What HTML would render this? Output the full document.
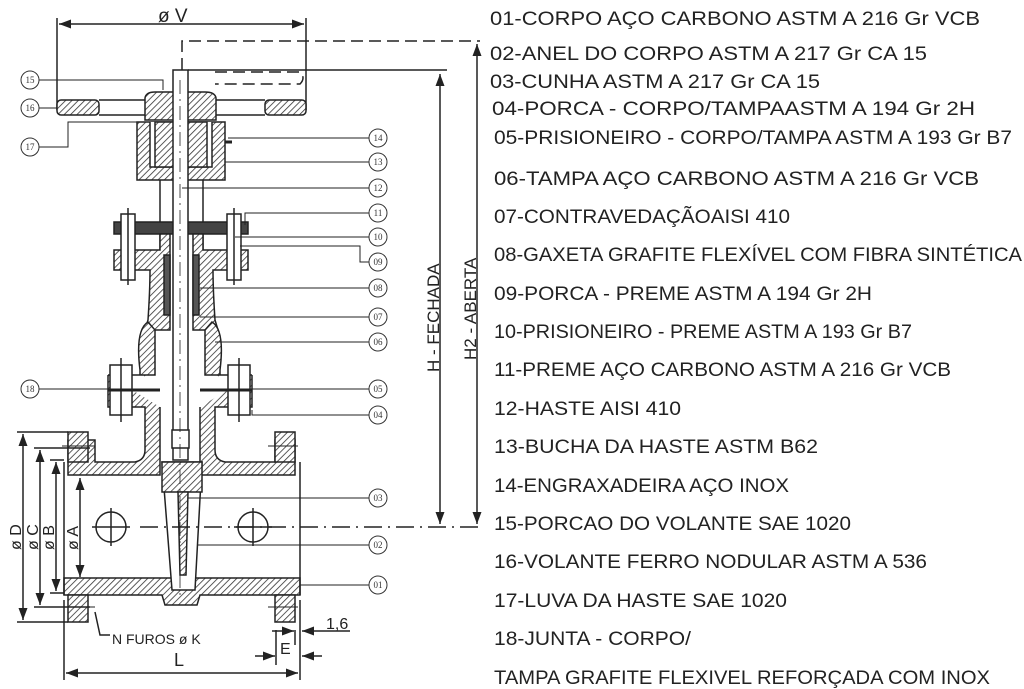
<!DOCTYPE html>
<html><head><meta charset="utf-8"><style>
html,body{margin:0;padding:0;background:#fff;}
svg{display:block}
.t{font-family:"Liberation Sans",sans-serif;font-size:19px;fill:#222}
.s{font-family:"Liberation Sans",sans-serif;fill:#222}
.c{font-family:"Liberation Serif",serif;font-size:9px;fill:#333;text-anchor:middle}
</style></head><body>
<svg width="1024" height="689" viewBox="0 0 1024 689" xmlns="http://www.w3.org/2000/svg">
<defs>
<pattern id="h" width="4.5" height="4.5" patternUnits="userSpaceOnUse" patternTransform="rotate(45)">
<rect width="5" height="5" fill="#fff"/><line x1="0" y1="0" x2="0" y2="5" stroke="#333" stroke-width="1.6"/>
</pattern>
<marker id="a" markerWidth="8" markerHeight="6" refX="8" refY="3" orient="auto"><path d="M0,0 L8,3 L0,6z" fill="#222"/></marker>
<marker id="b" markerWidth="8" markerHeight="6" refX="0" refY="3" orient="auto"><path d="M8,0 L0,3 L8,6z" fill="#222"/></marker>
</defs>

<g class="t">
<text x="490" y="25" textLength="490" lengthAdjust="spacingAndGlyphs">01-CORPO  AÇO CARBONO ASTM A 216 Gr VCB</text>
<text x="490" y="60" textLength="437" lengthAdjust="spacingAndGlyphs">02-ANEL DO CORPO   ASTM A  217 Gr  CA 15</text>
<text x="490" y="88" textLength="330" lengthAdjust="spacingAndGlyphs">03-CUNHA ASTM A 217  Gr CA 15</text>
<text x="492" y="115" textLength="483" lengthAdjust="spacingAndGlyphs">04-PORCA - CORPO/TAMPAASTM A 194 Gr 2H</text>
<text x="494" y="144" textLength="518" lengthAdjust="spacingAndGlyphs">05-PRISIONEIRO - CORPO/TAMPA ASTM A 193 Gr B7</text>
<text x="494" y="185" textLength="485" lengthAdjust="spacingAndGlyphs">06-TAMPA AÇO CARBONO ASTM A 216 Gr VCB</text>
<text x="494" y="223" textLength="296" lengthAdjust="spacingAndGlyphs">07-CONTRAVEDAÇÃOAISI 410</text>
<text x="494" y="261" textLength="528" lengthAdjust="spacingAndGlyphs">08-GAXETA GRAFITE FLEXÍVEL COM FIBRA SINTÉTICA</text>
<text x="494" y="300" textLength="378" lengthAdjust="spacingAndGlyphs">09-PORCA - PREME ASTM A 194 Gr 2H</text>
<text x="494" y="338" textLength="418" lengthAdjust="spacingAndGlyphs">10-PRISIONEIRO - PREME ASTM A 193 Gr B7</text>
<text x="494" y="376" textLength="457" lengthAdjust="spacingAndGlyphs">11-PREME AÇO CARBONO ASTM A 216 Gr VCB</text>
<text x="494" y="415" textLength="187" lengthAdjust="spacingAndGlyphs">12-HASTE AISI 410</text>
<text x="494" y="453" textLength="324" lengthAdjust="spacingAndGlyphs">13-BUCHA DA HASTE  ASTM B62</text>
<text x="494" y="492" textLength="295" lengthAdjust="spacingAndGlyphs">14-ENGRAXADEIRA AÇO INOX</text>
<text x="494" y="530" textLength="357" lengthAdjust="spacingAndGlyphs">15-PORCAO DO VOLANTE SAE 1020</text>
<text x="494" y="568" textLength="433" lengthAdjust="spacingAndGlyphs">16-VOLANTE FERRO NODULAR ASTM A 536</text>
<text x="494" y="607" textLength="293" lengthAdjust="spacingAndGlyphs">17-LUVA DA HASTE SAE 1020</text>
<text x="494" y="645" textLength="197" lengthAdjust="spacingAndGlyphs">18-JUNTA - CORPO/</text>
<text x="494" y="684" textLength="496" lengthAdjust="spacingAndGlyphs">TAMPA GRAFITE FLEXIVEL REFORÇADA COM INOX</text>
</g>

<g stroke="#222" stroke-width="1.5" fill="none">
<line x1="57" y1="18" x2="57" y2="110"/><line x1="306" y1="18" x2="306" y2="110"/>
<line x1="59" y1="24" x2="304" y2="24" marker-start="url(#b)" marker-end="url(#a)"/>
<path d="M182,70 V41 H480" stroke-dasharray="12,6"/>
<path d="M215,72 H300 Q306,78 300,84 H215" stroke-dasharray="12,6"/>
<path d="M188,70 H447"/>
<rect x="57" y="100" width="42" height="15" rx="4" fill="url(#h)"/>
<rect x="265" y="100" width="41" height="15" rx="4" fill="url(#h)"/>
<line x1="99" y1="100" x2="265" y2="100"/><line x1="99" y1="115" x2="265" y2="115"/>
<path d="M145,120 V98 Q146,92 155,92 H205 Q215,92 216,98 V120 Z" fill="url(#h)"/>
<path d="M137,122 H225 V180 H137 Z" fill="url(#h)"/>
<path d="M150,122 V167 H212 V122" fill="#fff"/>
<rect x="155" y="122" width="52" height="45" fill="url(#h)"/>
<path d="M225,142 H232" stroke-width="3"/>
<line x1="160" y1="180" x2="160" y2="250"/><line x1="203" y1="180" x2="203" y2="250"/>
<rect x="114" y="222" width="134" height="12" fill="#444"/>
<path d="M114,250 H160 V234 H170 V330 H155 L152,340 V370 L145,375 V330 L148,320 Q150,290 150,270 H114 Z" fill="url(#h)"/>
<path d="M248,250 H203 V234 H193 V330 H208 L211,340 V370 L218,375 V330 L215,320 Q213,290 213,270 H248 Z" fill="url(#h)"/>
<rect x="164" y="255" width="6" height="60" fill="#555"/><rect x="193" y="255" width="6" height="60" fill="#555"/>
<rect x="121" y="214" width="14" height="66" fill="#fff"/><rect x="227" y="214" width="14" height="66" fill="#fff"/>
<line x1="128" y1="208" x2="128" y2="285"/><line x1="234" y1="208" x2="234" y2="285"/>
<path d="M108,375 H155 V330 L148,322 Q135,330 140,370 L140,375 M108,375 V407 H145 V450 Q145,460 135,462 H95 V440 H68 V475 H160 V407" fill="url(#h)"/>
<path d="M252,375 H205 V330 L212,322 Q225,330 220,370 L220,375 M252,375 V407 H215 V450 Q215,460 225,462 H275 V440 H295 V475 H200 V407" fill="url(#h)"/>
<rect x="110" y="365" width="22" height="50" fill="#fff"/><rect x="228" y="365" width="22" height="50" fill="#fff"/>
<line x1="121" y1="358" x2="121" y2="422"/><line x1="239" y1="358" x2="239" y2="422"/>
<line x1="108" y1="390" x2="160" y2="390" stroke-width="3"/><line x1="200" y1="390" x2="252" y2="390" stroke-width="3"/>
<rect x="68" y="432" width="20" height="30" fill="url(#h)"/><rect x="275" y="432" width="20" height="30" fill="url(#h)"/>
<path d="M64,578 H300 V595 H200 L197,605 H165 L162,595 H64 Z" fill="url(#h)"/>
<rect x="68" y="595" width="20" height="27" fill="url(#h)"/><rect x="275" y="595" width="20" height="27" fill="url(#h)"/>
<line x1="64" y1="462" x2="64" y2="595"/><line x1="300" y1="462" x2="300" y2="595"/>
<path d="M62,446 H95 M268,446 H298 M62,607 H95 M268,607 H298" stroke-width="1"/>
<path d="M162,462 H202 L195,590 H172 Z" fill="#fff"/>
<rect x="162" y="462" width="40" height="30" fill="url(#h)"/>
<path d="M178,492 H188 L186,575 H180 Z" fill="url(#h)"/>
<rect x="173" y="70" width="15" height="390" fill="#fff"/>
<rect x="172" y="430" width="17" height="18" fill="#fff"/>
<circle cx="111" cy="527" r="15"/><circle cx="253" cy="527" r="15"/>
<path d="M92,527 H130 M111,508 V546 M234,527 H272 M253,508 V546"/>
<line x1="140" y1="527" x2="480" y2="527" stroke-dasharray="18,6,2,6"/>
<line x1="180" y1="80" x2="180" y2="600" stroke-dasharray="14,5,2,5" stroke-width="0.8"/>
<line x1="440" y1="74" x2="440" y2="524" marker-start="url(#b)" marker-end="url(#a)"/>
<line x1="477" y1="44" x2="477" y2="524" marker-start="url(#b)" marker-end="url(#a)"/>
<path d="M17,432 H68 M17,622 H68 M34,448 H90 M34,607 H90 M50,460 H64 M50,593 H64"/>
<line x1="23" y1="434" x2="23" y2="620" marker-start="url(#b)" marker-end="url(#a)"/>
<line x1="40" y1="450" x2="40" y2="605" marker-start="url(#b)" marker-end="url(#a)"/>
<line x1="56" y1="462" x2="56" y2="591" marker-start="url(#b)" marker-end="url(#a)"/>
<line x1="80" y1="478" x2="80" y2="577" marker-start="url(#b)" marker-end="url(#a)"/>
<line x1="64" y1="600" x2="64" y2="680"/><line x1="300" y1="600" x2="300" y2="680"/>
<line x1="66" y1="673" x2="298" y2="673" marker-start="url(#b)" marker-end="url(#a)"/>
<line x1="276" y1="630" x2="276" y2="665"/><line x1="295" y1="630" x2="295" y2="645"/>
<line x1="255" y1="656" x2="275" y2="656" marker-end="url(#a)"/><line x1="322" y1="656" x2="302" y2="656" marker-end="url(#a)"/>
<line x1="272" y1="631" x2="294" y2="631" marker-end="url(#a)"/><line x1="350" y1="631" x2="302" y2="631" marker-end="url(#a)"/>
<path d="M95,612 L100,635 H110"/>
<g stroke-width="1">
<path d="M39,80 H163 V90"/><path d="M39,108 H57"/><path d="M39,147 H68 V122 H137"/><path d="M39,389 H110"/>
<path d="M369,138 H228"/><path d="M369,162 H225"/><path d="M369,188 H182"/><path d="M369,213 H245 V225"/>
<path d="M369,237 H235"/><path d="M369,262 H360 V246 H240"/><path d="M369,288 H200"/><path d="M369,317 H200"/>
<path d="M369,342 H215"/><path d="M369,389 H242"/><path d="M369,415 H252 V410"/><path d="M369,498 H188"/>
<path d="M369,545 H198"/><path d="M369,585 H300"/>
</g>
</g>
<g fill="#fff" stroke="#333" stroke-width="1">
<circle cx="378" cy="138" r="9"/><circle cx="378" cy="162" r="9"/><circle cx="378" cy="188" r="9"/><circle cx="378" cy="213" r="9"/>
<circle cx="378" cy="237" r="9"/><circle cx="378" cy="262" r="9"/><circle cx="378" cy="288" r="9"/><circle cx="378" cy="317" r="9"/>
<circle cx="378" cy="342" r="9"/><circle cx="378" cy="389" r="9"/><circle cx="378" cy="415" r="9"/><circle cx="378" cy="498" r="9"/>
<circle cx="378" cy="545" r="9"/><circle cx="378" cy="585" r="9"/>
<circle cx="30" cy="80" r="9"/><circle cx="30" cy="108" r="9"/><circle cx="30" cy="147" r="9"/><circle cx="30" cy="389" r="9"/>
</g>
<g class="c">
<text x="378" y="141">14</text><text x="378" y="165">13</text><text x="378" y="191">12</text><text x="378" y="216">11</text>
<text x="378" y="240">10</text><text x="378" y="265">09</text><text x="378" y="291">08</text><text x="378" y="320">07</text>
<text x="378" y="345">06</text><text x="378" y="392">05</text><text x="378" y="418">04</text><text x="378" y="501">03</text>
<text x="378" y="548">02</text><text x="378" y="588">01</text>
<text x="30" y="83">15</text><text x="30" y="111">16</text><text x="30" y="150">17</text><text x="30" y="392">18</text>
</g>
<g class="s">
<text x="158" y="22" font-size="19">ø  V</text>
<text x="112" y="644" font-size="14">N FUROS ø K</text>
<text x="174" y="666" font-size="18">L</text>
<text x="280" y="654" font-size="16">E</text>
<text x="326" y="629" font-size="16">1,6</text>
<text transform="translate(439,372) rotate(-90)" font-size="17">H - FECHADA</text>
<text transform="translate(476,360) rotate(-90)" font-size="17">H2 - ABERTA</text>
<text transform="translate(21,550) rotate(-90)" font-size="16">ø D</text>
<text transform="translate(38,550) rotate(-90)" font-size="16">ø C</text>
<text transform="translate(54,550) rotate(-90)" font-size="16">ø B</text>
<text transform="translate(78,550) rotate(-90)" font-size="16">ø A</text>
</g>
</svg>
</body></html>
